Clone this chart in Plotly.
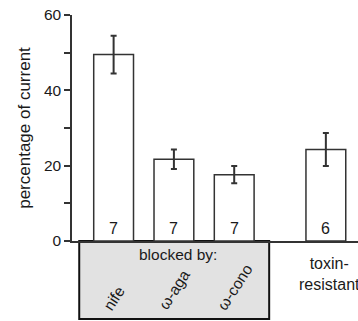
import plotly.graph_objects as go

# data
categories = ["nife", "ω-aga", "ω-cono", "toxin-<br>resistant"]
positions = [0, 1, 2, 3.52]
values = [49.5, 21.7, 17.6, 24.3]
errors = [5.0, 2.6, 2.3, 4.4]
n_cells = ["7", "7", "7", "6"]
y_ticks = [0, 10, 20, 30, 40, 50, 60]
y_ticktext = ["0", "", "20", "", "40", "", "60"]

FONT = "Liberation Sans, Arial, sans-serif"
TXT = "#1a1a1a"
XR = [-0.69, 4.053]

def px(d):
    return (d - XR[0]) / (XR[1] - XR[0])

fig = go.Figure()
fig.add_trace(go.Bar(
    x=positions, y=values, width=0.66,
    marker=dict(color="white", line=dict(color="#333", width=1.5)),
    error_y=dict(type="data", array=errors, visible=True, color="#333", thickness=2, width=3),
    showlegend=False,
))

annotations = []
for p, n in zip(positions, n_cells):
    annotations.append(dict(x=p, y=0, xref="x", yref="y", text=n, showarrow=False,
                            yanchor="bottom", yshift=2, font=dict(size=16, color=TXT, family=FONT)))

# rotated blocker labels
yshifts = [-57, -48, -46]
for p, c, ys in zip(positions[:3], categories[:3], yshifts):
    annotations.append(dict(x=p, y=0, xref="x", yref="paper", text=c, showarrow=False,
                            textangle=-57, yanchor="middle", xanchor="center", yshift=ys,
                            font=dict(size=15.5, color=TXT, family=FONT)))
annotations.append(dict(x=1.06, y=0, xref="x", yref="paper", text="blocked by:", showarrow=False,
                        yanchor="middle", yshift=-13, font=dict(size=15.5, color=TXT, family=FONT)))
annotations.append(dict(x=positions[3] + 0.06, y=0, xref="x", yref="paper", text=categories[3], showarrow=False,
                        yanchor="middle", yshift=-33, font=dict(size=16, color=TXT, family=FONT)))

shapes = [dict(type="rect", xref="paper", yref="paper",
               x0=px(-0.57), x1=px(2.58), y0=0, y1=-78 / 226,
               fillcolor="#e2e2e2", line=dict(color="#111", width=2), layer="below")]

fig.update_layout(
    width=358, height=321,
    margin=dict(l=72, r=0, t=15, b=80),
    plot_bgcolor="white", paper_bgcolor="white",
    font=dict(family=FONT, color=TXT),
    xaxis=dict(range=XR, showgrid=False, zeroline=False, showticklabels=False, ticks="",
               showline=True, linecolor="#333", linewidth=1.5),
    yaxis=dict(range=[0, 60], tickvals=y_ticks, ticktext=y_ticktext, ticks="outside", ticklen=6,
               tickwidth=1.5, tickcolor="#333", showline=True, linecolor="#333", linewidth=1.5,
               showgrid=False, zeroline=False, tickfont=dict(size=15.5, color=TXT),
               title=dict(text="percentage of current", font=dict(size=17, color=TXT), standoff=9)),
    annotations=annotations, shapes=shapes,
)

fig.write_html("out.html")
